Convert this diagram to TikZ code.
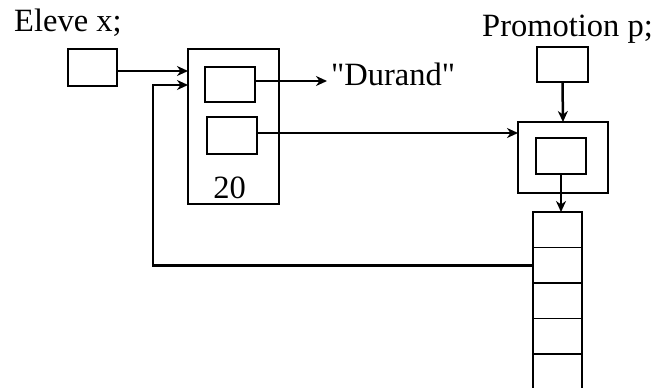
\documentclass[tikz,border=0pt]{standalone}
\usepackage{fontspec}
\setmainfont{Liberation Serif}[Ligatures=TeXOff]
\usetikzlibrary{arrows.meta,calc}
\begin{document}
\begin{tikzpicture}[x=1pt,y=-1pt,
  box/.style={draw,line width=1.3pt,minimum width=#1,inner sep=0pt,outer sep=0pt},
  lbl/.style={inner sep=0pt,font=\fontsize{32.5}{34}\selectfont},
  ptr/.style={line width=2.5pt,-{Stealth[length=11pt,width=10pt,inset=3.5pt]}}]
\useasboundingbox (0,0) rectangle (657,388);
% labels
\node[lbl,anchor=base west] (lx) at (14,31) {Eleve x;};
\node[lbl,anchor=base west] (lp) at (482,37) {Promotion p;};
% Eleve x
\node[box=49pt,minimum height=37pt] (xptr) at (92.5,67.5) {};
\node[box=91pt,minimum height=155pt] (xobj) at (233.5,126.5) {};
\node[box=50pt,minimum height=35pt] (xname) at (230,84.5) {};
\node[box=50pt,minimum height=37pt] (xpromo) at (232,135.5) {};
\node[lbl,anchor=base] (num) at (229.5,198) {20};
\node[lbl,anchor=base west] (dur) at (331,85) {"Durand"};
% Promotion p
\node[box=51pt,minimum height=35pt] (pptr) at (562.5,64.5) {};
\node[box=90pt,minimum height=71pt] (pobj) at (563,157.5) {};
\node[box=50pt,minimum height=36pt] (ptab) at (561,156) {};
\foreach \i in {1,...,5}{
  \node[box=49pt,minimum height=35.5pt] (c\i) at (557.5,{212+35.5*(\i-0.5)}) {};
}
\coordinate (loop) at (153,265.25);
% connectors
\draw[ptr] ([yshift=-3.5pt]xptr.east) -- ([yshift=-3.5pt]xptr.east -| xobj.west);
\draw[ptr] ([yshift=3.5pt]xname.east) -- ([xshift=-4pt,yshift=3.5pt]xname.east -| dur.west);
\draw[ptr] ([yshift=2.5pt]xpromo.east) -- ([yshift=2.5pt]xpromo.east -| pobj.west);
\draw[ptr] (pptr.south) -- (pobj.north);
\draw[ptr] (ptab.south) -- (ptab.south |- c1.north);
\draw[ptr] (c2.west) -- (loop) |- ([yshift=41.5pt]xobj.west);
\end{tikzpicture}
\end{document}
